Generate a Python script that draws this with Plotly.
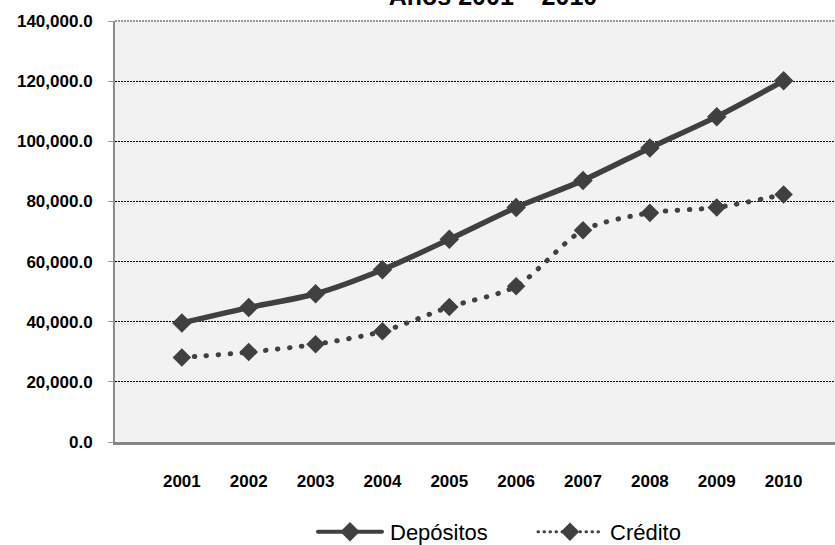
import plotly.graph_objects as go

# Years and series values
years = [2001, 2002, 2003, 2004, 2005, 2006, 2007, 2008, 2009, 2010]
depositos = [39600, 44700, 49300, 57300, 67400, 78000, 87000, 97800, 108200, 120100]
credito = [28100, 29900, 32500, 36800, 44900, 51800, 70400, 76200, 78000, 82300]

series_names = ["Depósitos", "Crédito"]
title_text = "Años 2001 – 2010"

dark = "#404040"
font_family = "Liberation Sans, Arial, sans-serif"

fig = go.Figure()

fig.add_trace(go.Scatter(
    x=years, y=depositos, name=series_names[0], mode="lines+markers",
    line=dict(color=dark, width=5.5, shape="spline", smoothing=0.8),
    marker=dict(symbol="diamond", size=15, color=dark),
))

fig.add_trace(go.Scatter(
    x=years, y=credito, name=series_names[1], mode="lines+markers",
    line=dict(color=dark, width=5, dash="0.5px,11.5px", shape="spline", smoothing=0.8),
    marker=dict(symbol="diamond", size=11, color=dark,
                line=dict(color=dark, width=3)),
))

W, H = 835, 545
fig.update_layout(
    width=W, height=H,
    margin=dict(l=115, r=0, t=21, b=103),
    paper_bgcolor="white",
    plot_bgcolor="#f2f2f2",
    showlegend=True,
    title=dict(
        text=title_text,
        font=dict(family=font_family, size=25, color="black", weight="bold"),
        x=493 / W, xanchor="center", xref="container",
        y=1 - 5 / H, yanchor="bottom", yref="container",
    ),
    legend=dict(
        orientation="h",
        xref="container", yref="container",
        x=350 / W, xanchor="left",
        y=1 - 532 / H, yanchor="middle",
        font=dict(family=font_family, size=22, color="black"),
        entrywidth=175, entrywidthmode="pixels",
        bgcolor="rgba(0,0,0,0)",
    ),
    xaxis=dict(
        range=[2000, 2000 + 720 / 66.86],
        tickvals=years,
        ticktext=[str(y) for y in years],
        showgrid=False, zeroline=False,
        showline=True, linecolor="#868686", linewidth=3,
        ticks="", ticklabelstandoff=22,
        tickfont=dict(family=font_family, size=17, color="black", weight="bold"),
    ),
    yaxis=dict(
        range=[0, 140000], dtick=20000, tick0=0,
        tickformat=",.1f",
        showgrid=True, gridcolor="black", gridwidth=1.3, griddash="1.5px,1.5px",
        zeroline=False,
        showline=True, linecolor="#8c8c8c", linewidth=2,
        ticks="outside", ticklen=5, tickcolor="#9a9a9a", tickwidth=1,
        ticklabelstandoff=12,
        tickfont=dict(family=font_family, size=17, color="black", weight="bold"),
    ),
    shapes=[dict(
        type="line", xref="paper", yref="paper", x0=0, x1=1, y0=1, y1=1,
        line=dict(color="#9a9a9a", width=2, dash="2px,1px"),
    )],
)

# Round line caps (round dots for the dotted series) and longer legend samples
post = """
function restyleLines(){
  document.querySelectorAll('path.js-line').forEach(function(p){
    p.style.strokeLinecap = 'round';
  });
  document.querySelectorAll('.legend [clip-path]').forEach(function(e){
    e.removeAttribute('clip-path');
  });
  document.querySelectorAll('.legend .traces').forEach(function(t, i){
    t.querySelectorAll('.legendlines path').forEach(function(p){
      p.setAttribute('d', 'M-32,0h64');
      if (i === 1) {
        p.style.strokeWidth = '3px';
        p.style.strokeDasharray = '0.5px,5.5px';
      } else {
        p.style.strokeWidth = '4px';
      }
    });
    t.querySelectorAll('.legendpoints path').forEach(function(p){
      p.setAttribute('transform', 'translate(0,0)');
    });
  });
}
restyleLines();
setTimeout(restyleLines, 0);
setTimeout(restyleLines, 200);
"""

fig.write_html("out.html", post_script=post)
